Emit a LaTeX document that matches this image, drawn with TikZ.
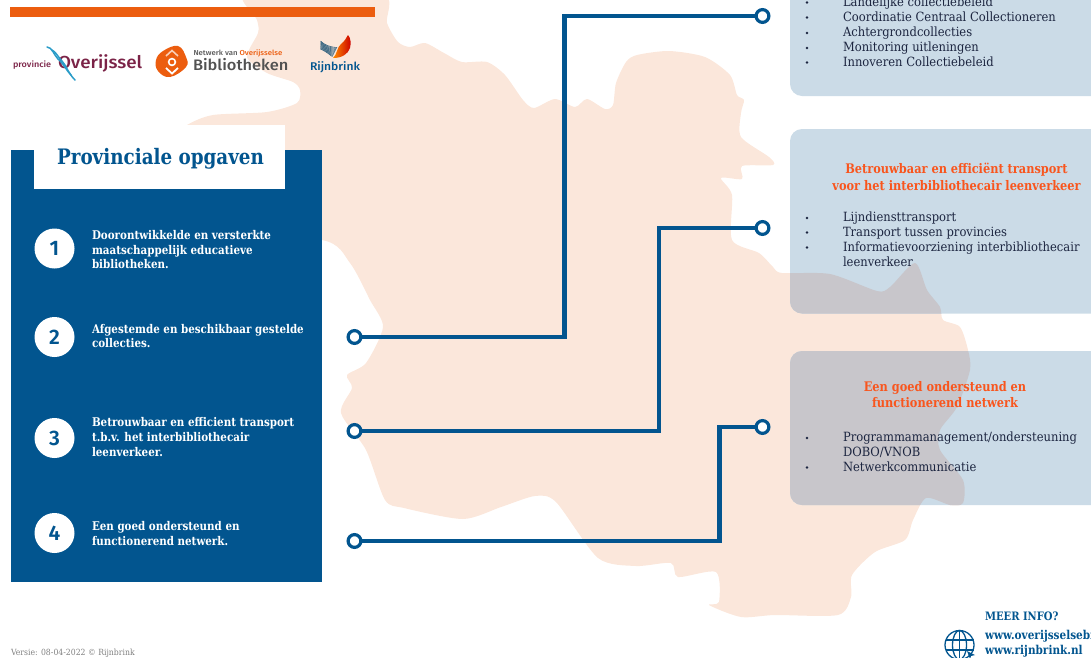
\documentclass[tikz,border=0pt]{standalone}
\usepackage{fontspec}
\setmainfont{DejaVu Serif}
\newfontfamily\slab{DejaVu Serif}[FakeStretch=0.91]
\newfontfamily\slabb{DejaVu Serif Bold}[FakeStretch=0.86]
\newfontfamily\logow{Fira Sans Medium}[FakeStretch=1.08]
\newfontfamily\numf{Fira Sans SemiBold}
\definecolor{navy}{HTML}{02558F}
\definecolor{mapc}{HTML}{FBE7DB}
\definecolor{boxc}{HTML}{CBDBE7}
\definecolor{overlapc}{HTML}{C8C6CB}
\definecolor{barc}{HTML}{EC5D0F}
\definecolor{headc}{HTML}{F9551D}
\definecolor{itemc}{HTML}{1C2540}
\definecolor{wine}{HTML}{7B2347}
\definecolor{wave}{HTML}{2A9CC8}
\newcommand{\mapshape}{plot[smooth cycle,tension=.45] coordinates{
(247,-8)(257,20)(258,33)(247,57)(267,73)(293,82)(300,90)(297,103)(267,112)(213,115)(187,125)(160,145)(200,235)(322,240)(350,263)(370,300)(383,327)(366,363)(347,375)(352,388)(341,413)(366,450)(385,500)(404,508)(463,519)(501,507)(535,496)(556,502)(598,558)(636,566)(671,563)(678,577)(716,572)(719,602)(709,605)(741,617)(775,615)(838,615)(851,597)(852,575)(875,552)(905,540)(913,520)(926,498)(950,505)(963,503)(963,480)(940,450)(940,430)(957,407)(970,370)(968,350)(960,327)(943,320)(940,307)(927,290)(915,263)(890,287)(877,291)(830,274)(782,273)(773,267)(759,253)(732,240)(732,195)(721,178)(742,179)(742,166)(773,165)(769,157)(741,137)(741,113)(744,100)(737,95)(730,75)(705,57)(669,51)(637,55)(626,62)(616,83)(613,105)(605,109)(587,99)(575,107)(555,99)(534,108)(523,100)(505,75)(487,62)(462,62)(444,53)(425,43)(410,47)(398,42)(387,23)(380,-8)}}
\tikzset{
 x=1pt,y=-1pt,
 every node/.style={inner sep=0pt,outer sep=0pt},
 panelline/.style={anchor=mid west,text=white,font=\slabb\fontsize{12}{14}\selectfont},
 numdisc/.style={circle,fill=white,minimum size=40pt,text=navy,font=\numf\fontsize{21}{24}\selectfont},
 ringnode/.style={circle,draw=navy,line width=3.2pt,fill=white,minimum size=12.8pt},
 conn/.style={draw=navy,line width=4.2pt,miter limit=10},
 itemline/.style={anchor=mid west,text=itemc,font=\slab\fontsize{12.7}{14}\selectfont},
 dotmark/.style={circle,fill=itemc,minimum size=2.6pt},
 headline/.style={anchor=center,text=headc,font=\slabb\fontsize{13.2}{14}\selectfont},
 infoline/.style={anchor=mid west,text=navy,font=\slabb\fontsize{12.2}{14}\selectfont},
 bluebox/.style={fill=boxc,rounded corners=12pt},
}
\begin{document}
\begin{tikzpicture}
\useasboundingbox (0,0) rectangle (1091,657);
\clip (0,0) rectangle (1091,657);
% map
\fill[mapc] \mapshape;
% right boxes
\fill[bluebox] (790,-30) rectangle (1130,96);
\fill[bluebox] (790,129) rectangle (1130,313.5);
\fill[bluebox] (790,351) rectangle (1130,505);
\begin{scope}
\clip[rounded corners=12pt] (790,129) rectangle (1130,313.5);
\fill[overlapc] \mapshape;
\end{scope}
\begin{scope}
\clip[rounded corners=12pt] (790,351) rectangle (1130,505);
\fill[overlapc] \mapshape;
\end{scope}
% bar
\fill[barc] (9.5,7) rectangle (374.5,16.5);
% panel
\fill[navy] (10.5,149.5) rectangle (322,582);
\node[fill=white,minimum width=251pt,minimum height=63.5pt,anchor=north west] (titlebox) at (34,125) {};
\node[text=navy,font=\slabb\fontsize{21.3}{24}\selectfont] (title) at (160.5,158.5) {Provinciale opgaven};
% numbers
\node[numdisc] (n1) at (54.5,248.5) {1};
\node[numdisc] (n2) at (54.5,337) {2};
\node[numdisc] (n3) at (54.5,438) {3};
\node[numdisc] (n4) at (54.5,533) {4};
% panel text
\node[panelline] (p1a) at (92,236.5) {Doorontwikkelde en versterkte};
\node[panelline] (p1b) at (92,251.5) {maatschappelijk educatieve};
\node[panelline] (p1c) at (92,266) {bibliotheken.};
\node[panelline] (p2a) at (92,330.5) {Afgestemde en beschikbaar gestelde};
\node[panelline] (p2b) at (92,345) {collecties.};
\node[panelline] (p3a) at (92,424) {Betrouwbaar en efficient transport};
\node[panelline] (p3b) at (92,438.5) {t.b.v. het interbibliothecair};
\node[panelline] (p3c) at (92,453.5) {leenverkeer.};
\node[panelline] (p4a) at (92,527.5) {Een goed ondersteund en};
\node[panelline] (p4b) at (92,543) {functionerend netwerk.};
% connectors
\coordinate (k1a) at (564.5,337);
\coordinate (k1b) at (564.5,16);
\coordinate (k2a) at (659,431);
\coordinate (k2b) at (659,228);
\coordinate (k3a) at (719.5,541);
\coordinate (k3b) at (719.5,427);
\node[ringnode] (s1) at (354.5,337) {};
\node[ringnode] (s2) at (354.5,431) {};
\node[ringnode] (s3) at (354.5,541) {};
\node[ringnode] (e1) at (762.5,16) {};
\node[ringnode] (e2) at (762.5,228) {};
\node[ringnode] (e3) at (762.5,427) {};
\draw[conn] (s1) -- (k1a) -- (k1b) -- (e1);
\draw[conn] (s2) -- (k2a) -- (k2b) -- (e2);
\draw[conn] (s3) -- (k3a) -- (k3b) -- (e3);
% box 1 items
\node[itemline] (a1) at (843,3.5) {Landelijke collectiebeleid};
\node[itemline] (a2) at (843,18.5) {Coordinatie Centraal Collectioneren};
\node[itemline] (a3) at (843,34) {Achtergrondcollecties};
\node[itemline] (a4) at (843,49) {Monitoring uitleningen};
\node[itemline] (a5) at (843,63.5) {Innoveren Collectiebeleid};
\foreach \n/\yy in {a/2.5,b/17.5,c/33,d/48,e/62.5}{\node[dotmark] (da\n) at (807,\yy) {};}
% box 2
\node[headline] (h2a) at (956.5,170) {Betrouwbaar en efficiënt transport};
\node[headline] (h2b) at (956.5,185.5) {voor het interbibliothecair leenverkeer};
\node[itemline] (b1) at (843,218.5) {Lijndiensttransport};
\node[itemline] (b2) at (843,233.5) {Transport tussen provincies};
\node[itemline] (b3) at (843,248.5) {Informatievoorziening interbibliothecair};
\node[itemline] (b4) at (843,263.5) {leenverkeer};
\foreach \n/\yy in {a/218,b/232.5,c/247.5}{\node[dotmark] (db\n) at (807,\yy) {};}
% box 3
\node[headline] (h3a) at (945,387.5) {Een goed ondersteund en};
\node[headline] (h3b) at (945,403) {functionerend netwerk};
\node[itemline] (c1) at (843,438.5) {Programmamanagement/ondersteuning};
\node[itemline] (c2) at (843,453.5) {DOBO/VNOB};
\node[itemline] (c3) at (843,468.5) {Netwerkcommunicatie};
\foreach \n/\yy in {a/438,b/467.5}{\node[dotmark] (dc\n) at (807,\yy) {};}
% footer
\node[anchor=mid west,text=black!50,font=\slab\fontsize{8.5}{11}\selectfont] (ver) at (11,652.5) {Versie: 08-04-2022 © Rijnbrink};
\node[infoline,font=\slabb\fontsize{11.6}{14}\selectfont] (i0) at (985,617.5) {MEER INFO?};
\node[infoline] (i1) at (985,636.5) {www.overijsselsebibliotheken.nl};
\node[infoline] (i2) at (985,652) {www.rijnbrink.nl};
% globe
\begin{scope}[draw=navy,line width=1.3pt]
\draw (959.5,645) circle (14.5);
\draw (959.5,645) ellipse (7 and 14.5);
\draw (959.5,630.5) -- (959.5,659.5);
\draw (945.5,640) -- (973.5,640);
\draw (945.5,650) -- (973.5,650);
\end{scope}
\fill[navy] (967,651) -- (975,655) -- (971,656) -- (970,659) -- cycle;
% logo provincie
\node[anchor=mid west,text=wine,font=\logow\fontsize{8.4}{10}\selectfont] (prov) at (13,65) {provincie};
\node[anchor=mid west,text=wine,font=\logow\fontsize{17.4}{22}\selectfont] (ovr) at (58,66) {Overijssel};
\draw[wave,line width=1.5pt,line cap=round] (47,47) .. controls (52,47) and (54,55) .. (58,59) .. controls (64,64) and (66,70) .. (71,75);
\draw[wave,line width=1.5pt,line cap=round] (52,50) .. controls (56,52) and (58,57) .. (62,61) .. controls (66,65) and (68,73) .. (75,80);
% logo netwerk
\fill[barc] plot[smooth cycle,tension=.7] coordinates{(156,60)(163,51)(178,46)(186,57)(186,67)(170,77)(158,71)};
\draw[white!70!barc,line width=1.6pt] (166,56) -- (172,50.5) -- (178,56);
\draw[white,line width=1.6pt] (172,62) circle (3.4);
\draw[white,line width=1.8pt] (166,68) -- (172,73.5) -- (178,68);
\node[anchor=mid west,text=black!65,font=\logow\fontsize{7.2}{9}\selectfont] (nw) at (193.5,53) {Netwerk van \textcolor{barc}{Overijsselse}};
\node[anchor=mid west,text=black!68,font=\logow\fontsize{15.2}{18}\selectfont] (bib) at (193,68) {Bibliotheken};
% logo rijnbrink
\foreach \t in {0,1,...,9}{
 \draw[navy!85!orange,line width=.55pt] (320.5,{41+\t*.9}) .. controls ({325+\t*.3},{45+\t*.8}) and ({329+\t*.2},{47+\t}) .. ({337-\t*.5},{47.5+\t});
}
\shade[left color=orange!90!yellow,right color=red!80!black] (333,58) .. controls (337,55) and (337,47) .. (341,44) .. controls (345,41) and (346,38) .. (348,35) .. controls (351,38) and (351,44) .. (350,48) .. controls (348,54) and (342,58) .. (333,58) -- cycle;
\node[anchor=mid west,text=navy,font=\logow\fontsize{11.2}{14}\selectfont] (rb) at (310,67.5) {Rijnbrink};
\end{tikzpicture}
\end{document}
